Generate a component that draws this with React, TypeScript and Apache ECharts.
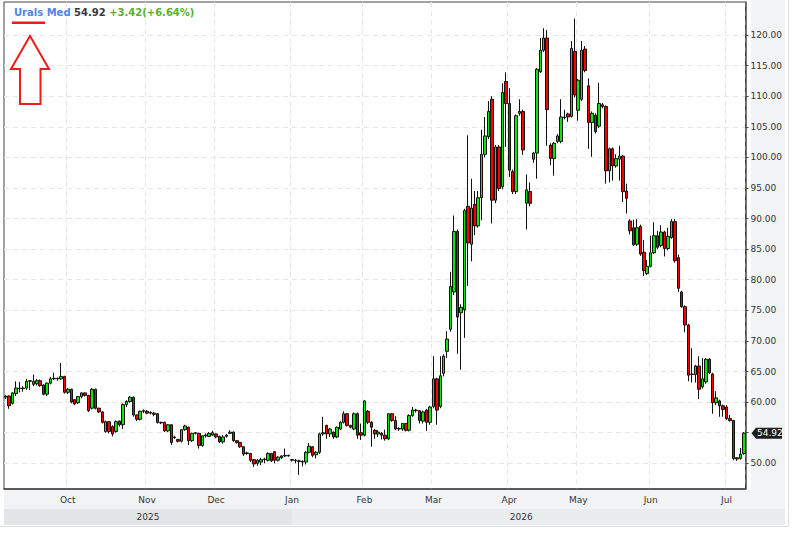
import React, { useEffect, useRef } from 'react';
import * as echarts from 'echarts';

const seriesName = 'Urals Med';
const firstDay = '2025-09-05';
const lastDay = '2026-07-08';
const holidays = ['2025-12-25', '2026-01-01', '2026-04-03', '2026-04-06'];
const monthNames = ['Jan', 'Feb', 'Mar', 'Apr', 'May', 'Jun', 'Jul', 'Aug', 'Sep', 'Oct', 'Nov', 'Dec'];
const yTicks = [50, 55, 60, 65, 70, 75, 80, 85, 90, 95, 100, 105, 110, 115, 120];

const open = [
  60.8, 61.0, 59.8, 61.4, 62.3, 62.2, 62.3, 63.4, 62.9, 63.0,
  63.5, 62.8, 61.3, 63.1, 63.8, 63.9, 63.8, 64.2, 61.6, 62.1,
  60.4, 59.9, 60.9, 61.5, 61.1, 59.0, 62.1, 59.0, 58.4, 55.2,
  56.8, 56.0, 55.2, 56.9, 56.3, 59.6, 60.1, 60.8, 57.9, 57.2,
  58.5, 58.5, 58.2, 58.2, 58.1, 56.7, 56.7, 55.3, 56.3, 54.3,
  53.9, 53.6, 55.5, 55.9, 53.7, 54.9, 54.9, 52.9, 54.5, 54.4,
  54.6, 54.8, 54.4, 53.5, 54.4, 54.9, 55.1, 53.7, 53.4, 52.7,
  51.7, 51.6, 50.6, 50.0, 50.2, 50.6, 50.5, 51.6, 51.9, 50.5,
  50.9, 51.2, 51.2, 50.6, 50.5, 50.4, 50.3, 50.2, 51.8, 52.7,
  51.4, 51.8, 54.8, 56.2, 54.8, 55.1, 54.3, 55.6, 56.7, 58.1,
  56.2, 55.6, 58.1, 55.0, 54.6, 58.5, 56.7, 55.4, 54.8, 54.9,
  54.6, 54.0, 58.1, 57.0, 55.6, 55.6, 56.5, 55.4, 57.8, 58.7,
  58.6, 56.9, 58.7, 56.7, 59.3, 63.8, 59.3, 64.7, 68.3, 71.9,
  78.0, 87.9, 74.6, 75.1, 92.0, 85.8, 92.3, 88.8, 93.4, 100.5,
  103.4, 109.5, 93.0, 101.7, 95.2, 112.4, 108.8, 97.7, 94.4, 107.2,
  107.5, 92.5, 94.4, 99.7, 100.7, 114.0, 117.5, 119.5, 102.0, 99.8,
  102.6, 102.6, 106.5, 107.1, 106.7, 117.3, 107.7, 109.5, 117.7, 111.7,
  105.7, 106.9, 105.1, 108.6, 108.3, 97.8, 101.4, 98.6, 99.7, 100.2,
  94.5, 89.6, 88.5, 85.8, 88.7, 84.5, 81.0, 82.2, 84.4, 87.2,
  85.6, 87.8, 85.1, 86.9, 89.5, 83.6, 78.0, 75.6, 72.6, 64.5,
  64.5, 65.9, 62.5, 63.3, 67.0, 64.6, 59.9, 60.2, 59.4, 59.2,
  57.3, 57.0, 50.9, 50.8, 51.6,
];

const close = [
  61.0, 59.4, 61.5, 62.3, 62.2, 62.3, 63.4, 63.5, 63.4, 63.5,
  62.7, 61.3, 63.1, 63.8, 63.9, 63.8, 64.2, 61.6, 62.1, 60.0,
  59.7, 60.9, 61.5, 61.1, 58.6, 62.1, 59.0, 58.4, 56.7, 56.8,
  55.2, 54.8, 56.8, 56.3, 59.6, 60.1, 60.8, 57.9, 57.2, 58.5,
  58.6, 58.2, 58.3, 58.0, 56.7, 56.6, 55.3, 56.3, 53.4, 54.2,
  53.6, 55.5, 56.1, 53.7, 54.9, 55.0, 52.9, 54.5, 54.6, 54.9,
  55.0, 54.3, 53.5, 54.3, 54.6, 55.1, 53.7, 53.4, 52.7, 51.5,
  51.6, 50.5, 49.9, 50.5, 50.6, 50.7, 51.6, 50.4, 50.5, 51.0,
  51.2, 51.3, 51.3, 50.5, 50.4, 50.3, 50.2, 51.8, 52.8, 51.3,
  51.8, 54.8, 55.0, 54.8, 55.6, 54.3, 55.9, 56.7, 58.1, 56.2,
  55.9, 58.1, 54.6, 54.6, 60.2, 56.7, 55.9, 54.8, 55.1, 54.6,
  54.0, 58.1, 57.0, 55.6, 55.7, 56.5, 55.4, 57.8, 58.7, 58.6,
  57.0, 58.4, 56.7, 59.2, 63.8, 58.7, 64.3, 67.5, 70.3, 78.9,
  87.9, 73.9, 75.5, 91.3, 86.0, 91.7, 88.8, 93.4, 100.5, 103.5,
  107.5, 93.0, 101.7, 94.9, 110.6, 108.8, 97.9, 94.4, 106.8, 107.5,
  101.2, 94.7, 92.5, 100.7, 114.4, 117.5, 119.5, 107.8, 99.8, 102.3,
  103.5, 106.6, 106.6, 106.6, 117.8, 110.2, 112.6, 117.5, 114.2, 105.7,
  107.2, 104.2, 108.8, 108.3, 97.8, 101.4, 98.6, 99.8, 100.2, 94.4,
  93.3, 88.0, 85.7, 88.5, 84.2, 81.5, 82.2, 84.4, 87.2, 85.3,
  87.8, 85.1, 87.1, 89.5, 83.1, 78.6, 75.6, 72.6, 64.4, 64.6,
  65.9, 62.1, 63.8, 67.0, 64.8, 59.9, 60.7, 59.4, 58.8, 57.3,
  57.0, 50.8, 50.7, 51.5, 54.92,
];

const low = [
  60.5, 58.9, 59.6, 61.0, 61.6, 61.7, 62.0, 62.0, 62.6, 62.7,
  62.5, 61.1, 61.0, 62.9, 63.6, 63.5, 63.6, 61.4, 61.3, 59.8,
  59.5, 59.7, 60.6, 60.9, 58.4, 58.8, 58.8, 58.2, 56.5, 55.0,
  54.9, 54.4, 55.0, 56.0, 55.6, 59.2, 59.9, 57.6, 56.9, 57.0,
  58.2, 58.0, 58.0, 57.7, 56.5, 56.4, 55.1, 55.1, 53.0, 54.0,
  53.4, 53.4, 55.3, 53.0, 53.5, 54.7, 52.4, 52.7, 54.2, 54.3,
  54.5, 54.1, 53.3, 53.2, 54.2, 54.8, 53.5, 53.2, 52.5, 51.2,
  51.4, 50.2, 49.4, 49.6, 49.7, 50.0, 50.3, 50.2, 50.0, 50.3,
  50.7, 51.0, 51.1, 50.3, 50.0, 48.1, 49.5, 49.8, 51.6, 51.0,
  50.8, 51.5, 54.5, 54.0, 54.3, 54.0, 54.1, 55.4, 56.5, 56.0,
  55.7, 55.4, 54.0, 53.8, 54.4, 56.4, 52.7, 54.0, 54.3, 53.9,
  53.7, 53.8, 56.8, 55.4, 55.3, 55.3, 55.2, 55.2, 57.6, 58.3,
  56.5, 56.5, 55.3, 56.3, 59.0, 56.3, 59.0, 64.2, 67.2, 71.5,
  77.5, 67.9, 65.3, 70.5, 79.0, 83.0, 87.3, 88.5, 89.7, 100.0,
  103.0, 89.2, 92.5, 94.5, 94.8, 101.7, 96.8, 94.0, 94.0, 106.8,
  100.4, 88.2, 92.0, 99.1, 96.5, 113.8, 117.2, 101.9, 98.7, 97.0,
  102.3, 102.3, 106.2, 105.8, 106.5, 109.8, 106.0, 109.2, 113.9, 101.4,
  100.1, 103.9, 104.8, 108.0, 95.7, 95.9, 96.2, 98.3, 96.2, 92.7,
  90.8, 87.4, 85.5, 85.5, 83.9, 80.6, 80.8, 82.0, 84.2, 85.0,
  85.3, 83.8, 84.8, 86.7, 82.8, 78.0, 75.4, 71.4, 63.4, 63.2,
  63.2, 60.5, 62.2, 63.0, 64.6, 58.1, 59.5, 57.6, 57.6, 57.1,
  56.8, 50.5, 50.4, 50.6, 51.4,
];

const high = [
  61.1, 61.1, 61.6, 63.4, 63.3, 62.6, 63.8, 63.6, 64.5, 63.8,
  63.7, 62.9, 63.2, 64.1, 64.8, 64.0, 66.4, 64.3, 62.3, 62.2,
  60.5, 61.0, 61.6, 61.6, 61.2, 62.3, 62.2, 59.1, 58.5, 57.0,
  56.9, 56.2, 57.0, 57.0, 59.8, 60.3, 61.0, 60.9, 58.0, 58.6,
  58.8, 58.7, 58.5, 58.4, 58.2, 56.8, 56.8, 56.4, 56.4, 54.5,
  54.0, 55.6, 56.3, 56.0, 55.0, 55.1, 55.0, 54.6, 54.9, 55.1,
  55.3, 54.9, 54.5, 54.6, 54.8, 55.4, 55.2, 53.8, 53.5, 52.8,
  51.9, 51.7, 50.7, 50.7, 50.9, 50.9, 51.8, 51.7, 52.0, 51.2,
  51.3, 52.4, 51.4, 50.7, 50.7, 50.6, 50.5, 52.0, 53.3, 52.8,
  52.0, 55.0, 57.6, 56.3, 55.8, 55.2, 56.0, 56.9, 58.5, 58.2,
  56.3, 58.3, 58.3, 56.5, 60.3, 58.7, 56.9, 55.6, 55.4, 55.1,
  55.5, 58.2, 58.2, 57.7, 55.9, 56.6, 56.6, 58.0, 59.2, 58.9,
  58.7, 58.6, 58.9, 59.4, 67.5, 64.0, 67.5, 67.8, 71.6, 81.3,
  90.5, 88.2, 76.0, 91.6, 103.6, 96.5, 94.5, 94.5, 104.5, 106.6,
  109.2, 110.0, 102.0, 102.0, 112.1, 113.9, 111.3, 98.0, 107.0, 109.5,
  107.8, 97.2, 95.9, 100.9, 114.6, 119.5, 121.1, 120.8, 102.3, 102.5,
  103.8, 109.5, 107.8, 107.3, 119.0, 122.7, 112.8, 119.0, 118.2, 112.9,
  107.5, 107.2, 112.2, 108.9, 108.5, 101.6, 101.6, 100.5, 101.9, 100.4,
  95.7, 89.9, 89.8, 89.9, 89.0, 86.5, 83.2, 87.2, 89.4, 88.0,
  88.9, 88.0, 88.5, 89.9, 89.9, 84.1, 78.2, 75.8, 72.8, 68.8,
  66.1, 67.5, 67.2, 67.2, 67.2, 64.8, 61.8, 60.4, 59.6, 59.5,
  57.9, 57.1, 51.0, 52.5, 55.1,
];

function tradingDays(): string[] {
  const out: string[] = [];
  const d = new Date(firstDay + 'T00:00:00Z');
  const end = new Date(lastDay + 'T00:00:00Z');
  while (d.getTime() <= end.getTime()) {
    const wd = d.getUTCDay();
    const s = d.toISOString().slice(0, 10);
    if (wd !== 0 && wd !== 6 && holidays.indexOf(s) < 0) out.push(s);
    d.setUTCDate(d.getUTCDate() + 1);
  }
  return out;
}

const dates = tradingDays();
const isMonthStart = (i: number) => i > 0 && !!dates[i] && dates[i].slice(5, 7) !== dates[i - 1].slice(5, 7);

const FONT = 'DejaVu Sans';

export default function App() {
  const ref = useRef<HTMLDivElement>(null);
  useEffect(() => {
    const chart = echarts.init(ref.current!, null, { renderer: 'svg' });
    const n = Math.min(dates.length, close.length);
    const data = [];
    for (let i = 0; i < n; i++) data.push([open[i], close[i], low[i], high[i]]);
    const last = close[n - 1];
    const prev = close[n - 2];
    const chg = last - prev;
    const pct = (chg / prev) * 100;
    const sign = chg >= 0 ? '+' : '';
    const cats = dates.slice(0, n);
    const labelTicks = yTicks.filter((v) => Math.abs(v - last) > 1.5);

    chart.setOption({
      animation: false,
      backgroundColor: '#ffffff',
      textStyle: { fontFamily: FONT },
      title: {
        left: 9,
        top: 2,
        text: `{a|${seriesName}} {b|${last.toFixed(2)}} {c|${sign}${chg.toFixed(2)}(${sign}${pct.toFixed(2)}%)}`,
        textStyle: {
          fontSize: 10,
          fontWeight: 'bold',
          fontFamily: FONT,
          rich: {
            a: { color: '#4f86e8', fontSize: 10, fontWeight: 'bold', fontFamily: FONT },
            b: { color: '#3a3a3a', fontSize: 10, fontWeight: 'bold', fontFamily: FONT },
            c: { color: '#5cae2e', fontSize: 10, fontWeight: 'bold', fontFamily: FONT },
          },
        },
      },
      grid: {
        left: 4,
        top: 2,
        right: 34.5,
        bottom: 36,
        show: true,
        borderColor: '#444',
        borderWidth: 1,
        backgroundColor: '#ffffff',
      },
      xAxis: {
        type: 'category',
        data: cats,
        boundaryGap: true,
        axisLine: { lineStyle: { color: '#444', width: 1.5 } },
        axisTick: {
          alignWithLabel: true,
          interval: (i: number) => isMonthStart(i),
          length: 3,
          lineStyle: { color: '#444' },
        },
        axisLabel: {
          interval: (i: number) => isMonthStart(i),
          formatter: (v: string) => monthNames[parseInt(v.slice(5, 7), 10) - 1],
          color: '#333',
          fontSize: 9,
          fontFamily: FONT,
          margin: 6,
        },
        splitLine: {
          show: true,
          interval: (i: number) => isMonthStart(i),
          lineStyle: { color: '#e6e6e6', type: [5, 4] },
        },
      },
      yAxis: {
        type: 'value',
        position: 'right',
        min: 45.8,
        max: 125.39,
        splitNumber: 16,
        axisLine: { show: true, lineStyle: { color: '#444', width: 1.5 } },
        axisTick: { show: true, length: 3, customValues: yTicks, lineStyle: { color: '#444' } },
        axisLabel: {
          customValues: labelTicks,
          formatter: (v: number) => v.toFixed(2),
          color: '#333',
          fontSize: 9,
          fontFamily: FONT,
          margin: 5,
        },
        splitLine: { show: true, lineStyle: { color: '#e6e6e6', type: [5, 4] } },
      },
      series: [
        {
          type: 'candlestick',
          name: seriesName,
          data,
          barWidth: 3,
          itemStyle: {
            color: '#0ee60e',
            color0: '#f80000',
            borderColor: '#111',
            borderColor0: '#111',
            borderColorDoji: '#111',
            borderWidth: 1,
          },
        },
      ],
    });

    const janIdx = cats.findIndex((d) => d.slice(5, 7) === '01');
    const janX = chart.convertToPixel({ xAxisIndex: 0 }, janIdx) as number;
    const py = chart.convertToPixel({ yAxisIndex: 0 }, last) as number;
    const plotRight = 750.5;
    const y1 = cats[0].slice(0, 4);
    const y2 = cats[n - 1].slice(0, 4);

    chart.setOption({
      graphic: {
        elements: [
          { type: 'rect', z: -10, shape: { x: 751, y: 0, width: 34, height: 490 }, style: { fill: '#f2f3f5' } },
          { type: 'rect', z: -10, shape: { x: 4, y: 490, width: 781, height: 19 }, style: { fill: '#f2f3f5' } },
          { type: 'rect', z: -10, shape: { x: 4, y: 509, width: janX - 4, height: 16 }, style: { fill: '#e4e5e7' } },
          { type: 'rect', z: -10, shape: { x: janX, y: 509, width: 785 - janX, height: 16 }, style: { fill: '#ebecee' } },
          {
            type: 'text', z: 5, x: (4 + janX) / 2, y: 517,
            style: { text: y1, fill: '#333', font: `9px "${FONT}"`, align: 'center', verticalAlign: 'middle' },
          },
          {
            type: 'text', z: 5, x: (janX + plotRight) / 2, y: 517,
            style: { text: y2, fill: '#333', font: `9px "${FONT}"`, align: 'center', verticalAlign: 'middle' },
          },
          {
            type: 'polygon', z: 20,
            shape: { points: [[751.5, py], [756, py - 5.5], [782, py - 5.5], [782, py + 5.5], [756, py + 5.5]] },
            style: { fill: '#1e1e1e' },
          },
          {
            type: 'text', z: 21, x: 757, y: py,
            style: { text: last.toFixed(2), fill: '#ffffff', font: `9px "${FONT}"`, verticalAlign: 'middle' },
          },
          { type: 'rect', z: 20, shape: { x: 12, y: 21.5, width: 33, height: 2.5 }, style: { fill: '#ee1c1c' } },
          {
            type: 'polygon', z: 20,
            shape: { points: [[30, 36], [49, 69], [40.5, 69], [40.5, 104], [20, 104], [20, 69], [11, 69]] },
            style: { fill: '#ffffff', stroke: '#ee1c1c', lineWidth: 2 },
          },
        ],
      },
    });

    return () => chart.dispose();
  }, []);

  return (
    <div style={{ position: 'absolute', left: 0, top: 0, width: 802, height: 535, background: '#fff' }}>
      <div
        style={{
          position: 'absolute', left: 0, top: 0, width: 788, height: 526,
          borderRight: '1px solid #dedede', borderBottom: '1px solid #dedede',
        }}
      />
      <div ref={ref} style={{ position: 'absolute', left: 0, top: 0, width: 785, height: 525 }} />
    </div>
  );
}
